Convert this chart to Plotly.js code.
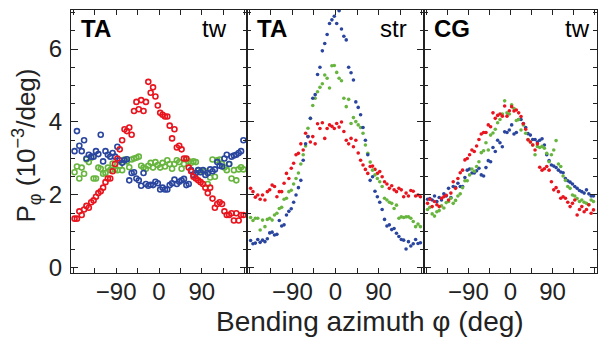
<!DOCTYPE html>
<html>
<head>
<meta charset="utf-8">
<script src="https://cdn.plot.ly/plotly-3.0.1.min.js"></script>
<style>html,body{margin:0;padding:0;background:#fff}#chart{width:601px;height:338px}</style>
</head>
<body>
<div id="chart"></div>
<script>
// Bending azimuth (deg)
const azimuth = [-177.5,-172.5,-167.5,-162.5,-157.5,-152.5,-147.5,-142.5,-137.5,-132.5,-127.5,-122.5,-117.5,-112.5,-107.5,-102.5,-97.5,-92.5,-87.5,-82.5,-77.5,-72.5,-67.5,-62.5,-57.5,-52.5,-47.5,-42.5,-37.5,-32.5,-27.5,-22.5,-17.5,-12.5,-7.5,-2.5,2.5,7.5,12.5,17.5,22.5,27.5,32.5,37.5,42.5,47.5,52.5,57.5,62.5,67.5,72.5,77.5,82.5,87.5,92.5,97.5,102.5,107.5,112.5,117.5,122.5,127.5,132.5,137.5,142.5,147.5,152.5,157.5,162.5,167.5,172.5,177.5];

// Panel 1: TA, tw
const taTwRed = [1.35,1.35,1.55,1.45,1.6,1.7,1.65,1.8,1.85,1.95,2.05,2.1,2.2,2.35,2.45,2.45,2.65,2.85,3.0,3.25,3.5,3.8,3.75,3.85,3.65,4.3,4.55,4.35,4.6,4.3,4.55,5.1,4.8,4.95,4.7,4.45,4.25,4.2,4.15,4.15,3.9,3.55,3.8,3.3,3.35,3.25,3.0,3.0,2.75,2.65,2.5,2.45,2.4,2.35,2.3,2.2,2.05,2.2,1.9,1.65,1.75,1.8,1.75,1.55,1.45,1.45,1.5,1.3,1.5,1.3,1.45,1.45];
const taTwBlue = [3.2,3.75,3.35,3.2,3.5,3.0,3.1,3.05,3.05,3.2,3.12,3.65,2.92,3.2,3.1,3.05,3.15,3.05,3.32,2.95,2.88,2.95,2.98,2.4,2.6,2.62,2.45,2.4,2.25,2.6,2.3,2.25,2.28,2.27,2.36,2.32,2.15,2.2,2.15,2.15,2.27,2.32,2.42,2.3,2.36,2.4,2.44,2.27,2.3,2.68,2.55,2.6,2.68,2.62,2.68,2.55,2.6,2.7,2.65,2.7,2.9,2.8,2.78,3.0,3.1,2.85,3.05,3.08,3.1,3.15,3.2,3.5];
const taTwGreen = [2.62,2.78,2.45,2.75,2.58,2.97,2.9,3.02,2.45,2.45,2.75,2.72,2.58,2.6,2.75,2.68,2.86,2.7,2.68,2.8,2.68,2.97,2.92,2.76,2.97,3.0,3.02,3.05,2.8,2.75,2.72,2.8,2.88,2.75,2.9,2.82,2.75,2.88,2.78,2.95,2.85,2.72,2.85,2.95,2.9,2.72,2.85,2.98,2.92,2.88,2.92,2.9,2.68,2.63,2.65,2.65,2.3,2.48,2.97,2.5,2.95,2.97,2.85,2.75,2.68,2.85,2.45,2.68,2.4,2.7,2.76,2.7];

// Panel 2: TA, str
const taStrRed = [2.18,2.09,1.94,2.0,1.88,2.0,1.86,2.09,2.14,2.27,2.23,1.95,2.09,2.09,2.32,2.59,2.45,2.73,2.87,3.1,3.14,3.4,3.23,3.69,3.6,3.45,3.6,3.4,3.95,3.82,3.98,3.55,3.82,3.92,3.88,3.82,3.96,3.86,4.0,3.74,3.5,3.4,3.55,3.32,3.5,3.15,2.95,2.82,2.7,2.59,2.78,2.79,2.7,2.59,2.64,2.5,2.36,2.3,2.18,2.25,2.14,2.09,2.18,2.14,1.95,2.05,1.97,2.12,2.1,1.97,2.0,1.95];
const taStrBlue = [0.75,0.66,0.68,0.78,0.7,0.76,0.72,0.8,0.96,0.98,0.9,0.92,1.3,1.15,1.18,1.45,1.55,1.62,1.8,2.0,2.2,2.4,2.95,3.4,3.6,4.1,4.65,4.75,5.3,5.5,5.95,6.15,6.4,6.7,6.8,6.9,6.7,7.05,6.55,6.35,6.25,5.5,5.35,5.15,4.55,4.4,4.2,3.85,3.5,3.1,2.4,2.5,2.1,1.95,1.8,1.6,1.33,1.15,1.18,1.05,1.08,0.95,0.86,0.78,0.76,0.52,0.72,0.6,0.66,0.78,0.67,0.69];
const taStrGreen = [1.38,1.3,1.36,1.36,1.04,1.31,1.13,1.33,1.36,1.31,1.45,1.5,1.63,1.66,1.88,1.91,2.09,2.13,2.3,2.45,2.6,2.85,3.1,3.34,3.83,4.1,4.45,4.65,4.83,4.95,5.05,5.29,5.2,4.93,5.54,5.55,5.36,5.2,5.13,4.65,4.42,4.62,3.96,4.12,4.01,3.92,3.85,3.69,3.37,3.14,2.9,2.68,2.55,2.45,2.36,2.23,1.91,1.86,1.8,1.77,1.63,1.72,1.36,1.4,1.38,1.4,1.4,1.36,1.27,1.13,1.2,1.13];

// Panel 3: CG, tw
const cgTwRed = [1.77,1.88,1.68,1.82,1.73,1.68,1.91,1.95,1.99,1.86,2.05,2.36,2.18,2.45,2.61,2.68,2.96,3.0,3.1,3.23,3.19,3.34,3.52,3.67,3.71,3.71,3.92,3.87,4.25,4.1,4.18,4.22,4.16,4.44,4.16,4.31,4.42,4.3,4.33,4.25,4.15,3.95,3.8,3.51,3.45,3.37,3.23,3.4,2.76,2.68,2.72,2.78,2.68,2.36,2.14,2.2,2.09,1.91,1.95,1.91,1.8,1.68,1.77,1.86,1.45,1.6,1.68,1.54,1.6,1.73,1.5,1.59];
const cgTwBlue = [1.88,1.9,1.86,1.97,1.82,1.93,1.86,2.03,1.97,2.18,1.93,2.23,2.21,2.32,2.23,2.23,2.48,2.68,2.71,2.6,2.6,2.66,2.73,2.55,2.52,2.75,2.94,2.91,3.3,3.19,3.5,3.43,3.32,3.73,3.71,3.78,3.92,3.67,3.71,4.07,4.07,3.96,3.85,3.68,3.64,3.52,3.52,3.45,3.5,3.54,3.37,3.1,2.94,2.82,2.79,2.75,2.68,2.63,2.61,2.45,2.39,2.35,2.3,2.23,2.18,2.12,2.09,2.05,2.14,2.03,1.97,1.97];
const cgTwGreen = [1.6,1.66,1.48,1.42,1.54,1.57,1.7,1.64,1.79,1.82,1.91,1.77,1.85,1.97,2.03,2.2,2.39,2.39,2.55,2.71,2.65,2.78,2.91,3.16,3.21,3.43,3.23,3.64,3.7,3.8,3.98,4.07,4.22,4.58,4.25,4.22,4.47,4.37,4.04,4.07,3.78,3.92,3.69,3.52,3.45,3.37,3.1,3.33,3.3,3.33,3.28,3.14,2.91,3.1,3.23,3.49,2.85,2.78,2.52,2.4,2.23,2.18,2.0,1.97,1.9,1.82,1.86,1.8,1.77,1.73,1.86,1.82];

const panelLeft = ['TA','TA','CG'];
const panelRight = ['tw','str','tw'];
const xTickVals = [-90, 0, 90];
const yTickVals = [0, 2, 4, 6];

const RED = '#e8141e', BLUE = '#2a459e', GREEN = '#67b53e';
const FONT = 'Liberation Sans, Arial, Helvetica, sans-serif';

function openTrace(y, color, ax) {
  return {x: azimuth, y: y, type: 'scatter', mode: 'markers', xaxis: 'x' + ax, yaxis: 'y' + ax,
    marker: {symbol: 'circle-open', size: 5, color: color, line: {width: 1.6, color: color}}, hoverinfo: 'skip'};
}
function dotTrace(y, color, ax) {
  return {x: azimuth, y: y, type: 'scatter', mode: 'markers', xaxis: 'x' + ax, yaxis: 'y' + ax,
    marker: {symbol: 'circle', size: 3.6, color: color, line: {width: 0}}, hoverinfo: 'skip'};
}

const data = [
  openTrace(taTwGreen, GREEN, ''), openTrace(taTwBlue, BLUE, ''), openTrace(taTwRed, RED, ''),
  dotTrace(taStrRed, RED, '2'), dotTrace(taStrGreen, GREEN, '2'), dotTrace(taStrBlue, BLUE, '2'),
  dotTrace(cgTwBlue, BLUE, '3'), dotTrace(cgTwGreen, GREEN, '3'), dotTrace(cgTwRed, RED, '3')
];

const W = 601, H = 338;
const xDomains = [[71/W, 247/W], [247/W, 424/W], [424/W, 597/W]];
const yDomain = [1 - 273/H, 1 - 10/H];

function xAxis(i) {
  return {domain: xDomains[i], range: [-185, 185], anchor: i === 0 ? 'y' : 'y' + (i + 1),
    tickmode: 'array', tickvals: xTickVals, ticktext: ['\u221290', '0', '90'],
    ticks: 'inside', ticklen: 5, tickwidth: 1, tickcolor: '#222',
    minor: {tickmode: 'linear', tick0: 0, dtick: 45, ticks: 'inside', ticklen: 5, tickwidth: 1, tickcolor: '#222'},
    showline: true, linecolor: '#222', linewidth: 1.2, mirror: 'allticks', showgrid: false, zeroline: false,
    tickfont: {family: FONT, size: 24, color: '#222'}, ticklabelstandoff: -3, fixedrange: true};
}
function yAxis(i) {
  return {domain: yDomain, range: [-0.14, 7.07], anchor: i === 0 ? 'x' : 'x' + (i + 1),
    tickmode: 'array', tickvals: yTickVals, ticktext: yTickVals.map(String), showticklabels: i === 0,
    ticks: 'inside', ticklen: 7, tickwidth: 1, tickcolor: '#222',
    minor: {tickmode: 'linear', tick0: 0, dtick: 0.5, ticks: 'inside', ticklen: 4, tickwidth: 1, tickcolor: '#222'},
    showline: true, linecolor: '#222', linewidth: 1.2, mirror: 'allticks', showgrid: false, zeroline: false,
    tickfont: {family: FONT, size: 24, color: '#222'}, ticklabelstandoff: 3, fixedrange: true};
}

const annotations = [];
const xrefs = ['x domain', 'x2 domain', 'x3 domain'];
const yrefs = ['y domain', 'y2 domain', 'y3 domain'];
const rightInset = [0.90, 0.915, 0.971];
for (let i = 0; i < 3; i++) {
  annotations.push({xref: xrefs[i], yref: yrefs[i], x: 0.045, y: 0.928, xanchor: 'left', yanchor: 'middle', showarrow: false,
    text: '<b>' + panelLeft[i] + '</b>', font: {family: FONT, size: 24, color: '#000'}});
  annotations.push({xref: xrefs[i], yref: yrefs[i], x: rightInset[i], y: 0.928, xanchor: 'right', yanchor: 'middle', showarrow: false,
    text: panelRight[i], font: {family: FONT, size: 24, color: '#000'}});
}
annotations.push({xref: 'paper', yref: 'paper', x: 370/W, y: 1 - 321/H, xanchor: 'center', yanchor: 'middle', showarrow: false,
  text: 'Bending azimuth \u03c6 (deg)', font: {family: FONT, size: 28, color: '#222'}});
annotations.push({xref: 'paper', yref: 'paper', x: 27/W, y: 1 - 145.5/H, xanchor: 'center', yanchor: 'middle', showarrow: false, textangle: -90,
  text: 'P<sub>\u03c6</sub> (10<sup>\u22123</sup>/deg)', font: {family: FONT, size: 26, color: '#222'}});

const layout = {
  width: W, height: H, margin: {l: 0, r: 0, t: 0, b: 0}, showlegend: false,
  paper_bgcolor: '#fff', plot_bgcolor: '#fff', font: {family: FONT},
  xaxis: xAxis(0), xaxis2: xAxis(1), xaxis3: xAxis(2),
  yaxis: yAxis(0), yaxis2: yAxis(1), yaxis3: yAxis(2),
  annotations: annotations
};

Plotly.newPlot('chart', data, layout, {displayModeBar: false, staticPlot: true});
</script>
</body>
</html>
